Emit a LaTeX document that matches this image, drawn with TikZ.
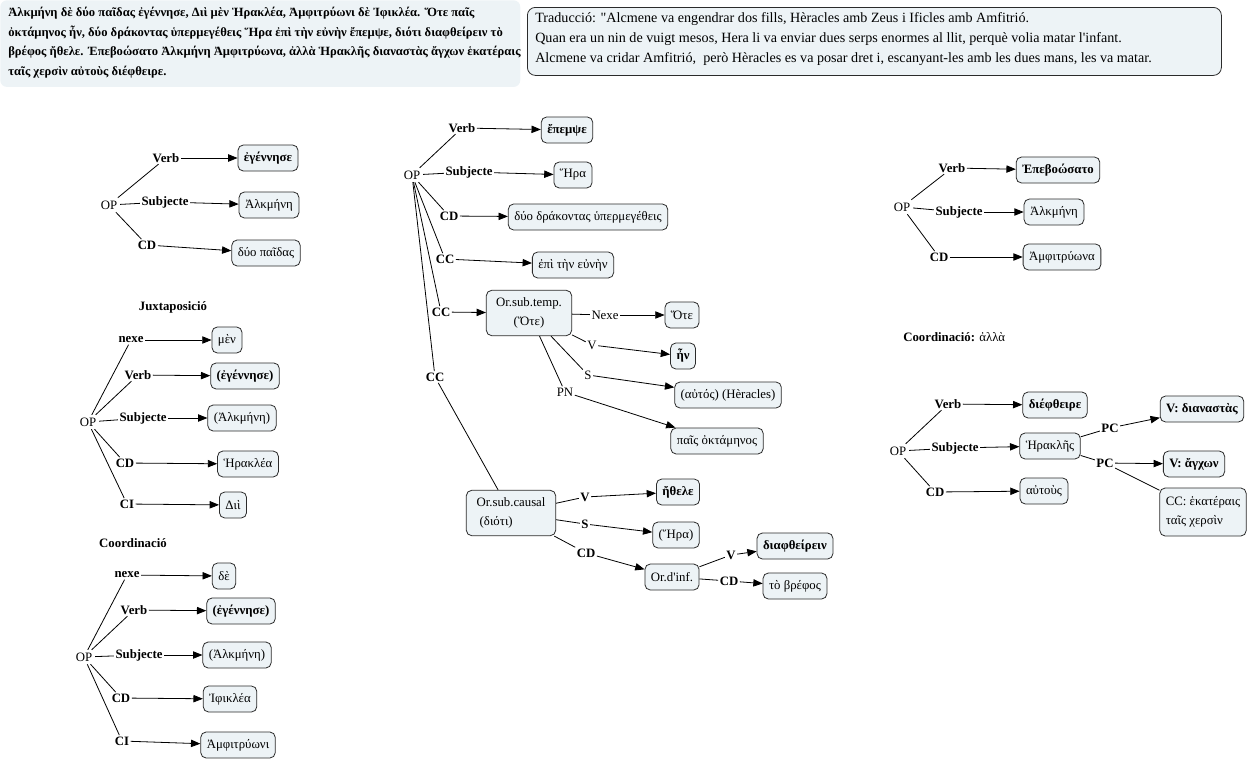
\documentclass[tikz,border=0pt]{standalone}
\usepackage{fontspec}
\setmainfont{Liberation Serif}[Ligatures=TeXOff]
\usetikzlibrary{arrows.meta}
\definecolor{boxfill}{HTML}{EDF3F6}
\definecolor{boxline}{HTML}{2B2B2B}
\begin{document}
\begin{tikzpicture}[x=0.75pt,y=-0.75pt,
  cbox/.style={draw=boxline,fill=boxfill,rounded corners=4pt,line width=0.6pt,inner xsep=4.5pt,inner ysep=0pt,minimum height=19.5pt,font=\fontsize{9.6}{14.5}\selectfont,align=center},
  bbox/.style={cbox,font=\fontsize{9.6}{14.5}\selectfont\bfseries},
  lab/.style={font=\fontsize{9.6}{11}\selectfont\bfseries,inner sep=1pt},
  nlab/.style={font=\fontsize{9.6}{11}\selectfont,inner sep=1pt},
  opn/.style={font=\fontsize{9.6}{11}\selectfont,inner sep=2pt},
  ttl/.style={font=\fontsize{9.6}{11}\selectfont\bfseries,inner sep=0pt},
  con/.style={line width=0.6pt,draw=black},
  arr/.style={con,-{Triangle[length=7pt,width=5.5pt]}},
]
\useasboundingbox (0,0) rectangle (1250,761);

% header boxes
\node[fill=boxfill,rounded corners=5pt,anchor=north west,minimum width=390pt,minimum height=65pt,inner sep=0pt] (greekbox) at (0,0) {};
\node[anchor=north west,inner sep=0pt,align=left,font=\fontsize{9.45}{14.6}\selectfont\bfseries] (greek) at (8,7)
{Ἀλκμήνη δὲ δύο παῖδας ἐγέννησε, Διὶ μὲν Ἡρακλέα, Ἀμφιτρύωνι δὲ Ἰφικλέα. Ὅτε παῖς\\
ὀκτάμηνος ἦν, δύο δράκοντας ὑπερμεγέθεις Ἥρα ἐπὶ τὴν εὐνὴν ἔπεμψε, διότι διαφθείρειν τὸ\\
βρέφος ἤθελε. Ἐπεβοώσατο Ἀλκμήνη Ἀμφιτρύωνα, ἀλλὰ Ἡρακλῆς διαναστὰς ἄγχων ἑκατέραις\\
ταῖς χερσὶν αὐτοὺς διέφθειρε.};

\node[draw=boxline,line width=0.6pt,fill=boxfill,rounded corners=6pt,anchor=north west,minimum width=520.5pt,minimum height=51pt,inner sep=0pt] (tradbox) at (527,7) {};
\node[anchor=north west,inner sep=0pt,align=left,font=\fontsize{10.6}{15}\selectfont] (trad) at (535,12)
{Traducció: "Alcmene va engendrar dos fills, Hèracles amb Zeus i Ificles amb Amfitrió.\\
Quan era un nin de vuigt mesos, Hera li va enviar dues serps enormes al llit, perquè volia matar l'infant.\\
Alcmene va cridar Amfitrió,\ \ però Hèracles es va posar dret i, escanyant-les amb les dues mans, les va matar.};

% ---------- section 1
\node[opn] (op1) at (109,205) {OP};
\node[lab] (v1) at (166,158) {Verb};
\node[lab] (s1) at (165,202) {Subjecte};
\node[lab] (cd1) at (147,245) {CD};
\node[bbox] (b11) at (268,158) {ἐγέννησε};
\node[cbox] (b12) at (269,205) {Ἀλκμήνη};
\node[cbox] (b13) at (266,253) {δύο παῖδας};
\draw[con] (op1)--(v1); \draw[con] (op1)--(s1); \draw[con] (op1)--(cd1);
\draw[arr] (v1)--(b11); \draw[arr] (s1)--(b12); \draw[arr] (cd1)--(b13);

% ---------- section 2
\node[ttl] (t2) at (173,307) {Juxtaposició};
\node[opn] (op2) at (88,422) {OP};
\node[lab] (n2) at (131,340) {nexe};
\node[lab] (v2) at (138,375) {Verb};
\node[lab] (s2) at (143,418) {Subjecte};
\node[lab] (cd2) at (125,463) {CD};
\node[lab] (ci2) at (127,504) {CI};
\node[cbox] (b21) at (227,340) {μὲν};
\node[bbox] (b22) at (245,376) {(ἐγέννησε)};
\node[cbox] (b23) at (242,418) {(Ἀλκμήνη)};
\node[cbox] (b24) at (248,464) {Ἡρακλέα};
\node[cbox] (b25) at (233,505) {Διὶ};
\draw[con] (op2)--(n2); \draw[con] (op2)--(v2); \draw[con] (op2)--(s2); \draw[con] (op2)--(cd2); \draw[con] (op2)--(ci2);
\draw[arr] (n2)--(b21); \draw[arr] (v2)--(b22); \draw[arr] (s2)--(b23); \draw[arr] (cd2)--(b24); \draw[arr] (ci2)--(b25);

% ---------- section 3
\node[ttl] (t3) at (133,543) {Coordinació};
\node[opn] (op3) at (84,657) {OP};
\node[lab] (n3) at (127,575) {nexe};
\node[lab] (v3) at (134,610) {Verb};
\node[lab] (s3) at (139,655) {Subjecte};
\node[lab] (cd3) at (121,698) {CD};
\node[lab] (ci3) at (122,741) {CI};
\node[cbox] (b31) at (224,576) {δὲ};
\node[bbox] (b32) at (241,611) {(ἐγέννησε)};
\node[cbox] (b33) at (237,655) {(Ἀλκμήνη)};
\node[cbox] (b34) at (230,699) {Ἰφικλέα};
\node[cbox] (b35) at (238,745) {Ἀμφιτρύωνι};
\draw[con] (op3)--(n3); \draw[con] (op3)--(v3); \draw[con] (op3)--(s3); \draw[con] (op3)--(cd3); \draw[con] (op3)--(ci3);
\draw[arr] (n3)--(b31); \draw[arr] (v3)--(b32); \draw[arr] (s3)--(b33); \draw[arr] (cd3)--(b34); \draw[arr] (ci3)--(b35);

% ---------- middle
\node[opn] (op4) at (412,175) {OP};
\node[lab] (v4) at (462,128) {Verb};
\node[lab] (s4) at (469,172) {Subjecte};
\node[lab] (cd4) at (449,216) {CD};
\node[lab] (cc4a) at (445,259) {CC};
\node[lab] (cc4b) at (441,312) {CC};
\node[lab] (cc4c) at (435,377) {CC};
\node[bbox] (b41) at (567,130) {ἔπεμψε};
\node[cbox] (b42) at (573,175) {Ἥρα};
\node[cbox] (b43) at (588,217) {δύο δράκοντας ὑπερμεγέθεις};
\node[cbox] (b44) at (573,265) {ἐπὶ τὴν εὐνὴν};
\node[cbox,minimum height=34pt,minimum width=64pt] (temp) at (529,313) {Or.sub.temp.\\(Ὅτε)};
\node[cbox,minimum height=34pt,minimum width=67pt,align=left] (caus) at (511,513) {Or.sub.causal\\\ (διότι)};
\draw[con] (op4)--(v4); \draw[con] (op4)--(s4); \draw[con] (op4)--(cd4);
\draw[con] (op4)--(cc4a); \draw[con] (op4)--(cc4b); \draw[con] (op4)--(cc4c);
\draw[arr] (v4)--(b41); \draw[arr] (s4)--(b42); \draw[arr] (cd4)--(b43); \draw[arr] (cc4a)--(b44); \draw[arr] (cc4b)--(temp);
\draw[con] (cc4c)--(caus);

% Or.sub.temp branch
\node[nlab] (nx5) at (605,315) {Nexe};
\node[nlab] (v5) at (592,345) {V};
\node[nlab] (s5) at (588,375) {S};
\node[nlab] (pn5) at (565,392) {PN};
\node[cbox] (b51) at (682,315) {Ὅτε};
\node[bbox] (b52) at (683,356) {ἦν};
\node[cbox] (b53) at (728,395) {(αὐτός) (Hèracles)};
\node[cbox] (b54) at (717,441) {παῖς ὀκτάμηνος};
\draw[con] (temp)--(nx5); \draw[con] (temp)--(v5); \draw[con] (temp)--(s5); \draw[con] (temp)--(pn5);
\draw[arr] (nx5)--(b51); \draw[arr] (v5)--(b52); \draw[arr] (s5)--(b53); \draw[arr] (pn5)--(b54);

% Or.sub.causal branch
\node[lab] (v6) at (585,497) {V};
\node[lab] (s6) at (585,524) {S};
\node[lab] (cd6) at (586,553) {CD};
\node[bbox] (b61) at (678,492) {ἤθελε};
\node[cbox] (b62) at (676,535) {(Ἥρα)};
\node[cbox] (inf) at (672,577) {Or.d'inf.};
\draw[con] (caus)--(v6); \draw[con] (caus)--(s6); \draw[con] (caus)--(cd6);
\draw[arr] (v6)--(b61); \draw[arr] (s6)--(b62); \draw[arr] (cd6)--(inf);
\node[lab] (v7) at (731,555) {V};
\node[lab] (cd7) at (729,581) {CD};
\node[bbox] (b71) at (795,546) {διαφθείρειν};
\node[cbox] (b72) at (795,586) {τὸ βρέφος};
\draw[con] (inf)--(v7); \draw[con] (inf)--(cd7);
\draw[arr] (v7)--(b71); \draw[arr] (cd7)--(b72);

% ---------- right top
\node[opn] (op8) at (902,207) {OP};
\node[lab] (v8) at (952,168) {Verb};
\node[lab] (s8) at (959,212) {Subjecte};
\node[lab] (cd8) at (939,257) {CD};
\node[bbox] (b81) at (1058,170) {Ἐπεβοώσατο};
\node[cbox] (b82) at (1054,212) {Ἀλκμήνη};
\node[cbox] (b83) at (1062,257) {Ἀμφιτρύωνα};
\draw[con] (op8)--(v8); \draw[con] (op8)--(s8); \draw[con] (op8)--(cd8);
\draw[arr] (v8)--(b81); \draw[arr] (s8)--(b82); \draw[arr] (cd8)--(b83);

% ---------- right bottom
\node[ttl,anchor=west] (t9) at (903,337) {Coordinació: \normalfont ἀλλὰ};
\node[opn] (op9) at (898,451) {OP};
\node[lab] (v9) at (948,404) {Verb};
\node[lab] (s9) at (955,448) {Subjecte};
\node[lab] (cd9) at (935,492) {CD};
\node[bbox] (b91) at (1055,405) {διέφθειρε};
\node[cbox] (her) at (1050,446) {Ἡρακλῆς};
\node[cbox] (b93) at (1044,491) {αὐτοὺς};
\draw[con] (op9)--(v9); \draw[con] (op9)--(s9); \draw[con] (op9)--(cd9);
\draw[arr] (v9)--(b91); \draw[arr] (s9)--(her); \draw[arr] (cd9)--(b93);
\node[lab] (pc1) at (1110,428) {PC};
\node[lab] (pc2) at (1105,463) {PC};
\node[bbox] (b94) at (1202,409) {V: διαναστὰς};
\node[bbox] (b95) at (1194,464) {V: ἄγχων};
\node[cbox,align=left,minimum height=36pt] (b96) at (1203,512) {CC: ἑκατέραις\\ταῖς χερσὶν};
\draw[con] (her)--(pc1); \draw[con] (her)--(pc2);
\draw[arr] (pc1)--(b94); \draw[arr] (pc2)--(b95); \draw[con] (pc2)--(b96);
\end{tikzpicture}
\end{document}
